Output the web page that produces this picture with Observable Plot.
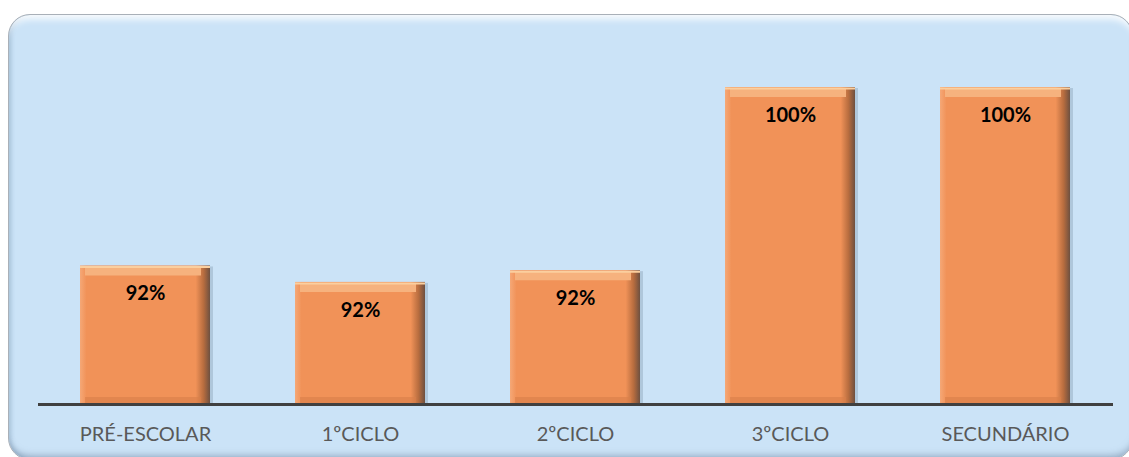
<!DOCTYPE html>
<html>
<head>
<meta charset="utf-8">
<script src="https://cdn.jsdelivr.net/npm/d3@7"></script>
<script src="https://cdn.jsdelivr.net/npm/@observablehq/plot@0.6"></script>
<style>
  html, body { margin: 0; padding: 0; background: #ffffff; width: 1129px; height: 457px; overflow: hidden; }
  #frame {
    position: absolute; left: 8px; top: 14px; width: 1125px; height: 446px;
    box-sizing: border-box;
    border-radius: 22px;
    background: #cbe3f7;
    border: 1px solid #a9b0b8;
    box-shadow: inset 0 9px 7px -5px rgba(255,255,255,0.95), inset 3px 0 4px -1px rgba(120,150,180,0.45), inset 0 -8px 6px -4px rgba(120,140,165,0.55);
  }
  #chart { position: absolute; left: 0; top: 0; }
</style>
</head>
<body>
<svg width="0" height="0" style="position:absolute">
  <defs>
    <linearGradient id="barGrad" x1="0" y1="0" x2="1" y2="0">
      <stop offset="0" stop-color="#f5a877"/>
      <stop offset="0.05" stop-color="#f19258"/>
      <stop offset="0.89" stop-color="#f19258"/>
      <stop offset="0.95" stop-color="#b86d3f"/>
      <stop offset="1" stop-color="#6e5040"/>
    </linearGradient>
  </defs>
</svg>
<div id="frame"></div>
<div id="chart"></div>
<script>
const categories = ["PRÉ-ESCOLAR", "1ºCICLO", "2ºCICLO", "3ºCICLO", "SECUNDÁRIO"];
const values = [92.4, 91.7, 92.2, 100, 100];
const yDomain = [86.5, 100];

const data = categories.map((c, i) => ({cat: c, v: values[i]}));

const plot = Plot.plot({
  width: 1129,
  height: 457,
  marginLeft: 38,
  marginRight: 16,
  marginTop: 87,
  marginBottom: 53,
  style: {background: "transparent", fontFamily: "Lato, 'Open Sans', sans-serif", fontSize: "20px", color: "#595959", overflow: "visible"},
  x: {domain: categories, paddingInner: 0.395, paddingOuter: 0.1975, label: null, tickSize: 0, tickPadding: 22},
  y: {domain: yDomain, axis: null},
  marks: [
    Plot.barY(data, {x: "cat", y1: yDomain[0], y2: "v", fill: "#8da3b8", fillOpacity: 0.45, dx: 3, dy: 1}),
    Plot.barY(data, {x: "cat", y1: yDomain[0], y2: "v", fill: "url(#barGrad)"}),
    Plot.tickY(data, {x: "cat", y: "v", stroke: "#f6b27e", strokeWidth: 9, dy: 5, insetLeft: 5, insetRight: 9}),
    Plot.tickY(data, {x: "cat", y: "v", stroke: "#fbcf9f", strokeWidth: 2, dy: 1}),
    Plot.tickY(data, {x: "cat", y: yDomain[0], stroke: "#d97f49", strokeWidth: 7, strokeOpacity: 0.6, dy: -4, insetLeft: 5, insetRight: 9}),
    Plot.ruleY([yDomain[0]], {stroke: "#404040", strokeWidth: 3}),
    Plot.text(data, {x: "cat", y: "v", text: d => Math.round(d.v) + "%", dy: 28, fill: "#000000", fontWeight: "bold", fontSize: 20, fontFamily: "Lato, sans-serif"})
  ]
});
document.getElementById("chart").appendChild(plot);
</script>
</body>
</html>
